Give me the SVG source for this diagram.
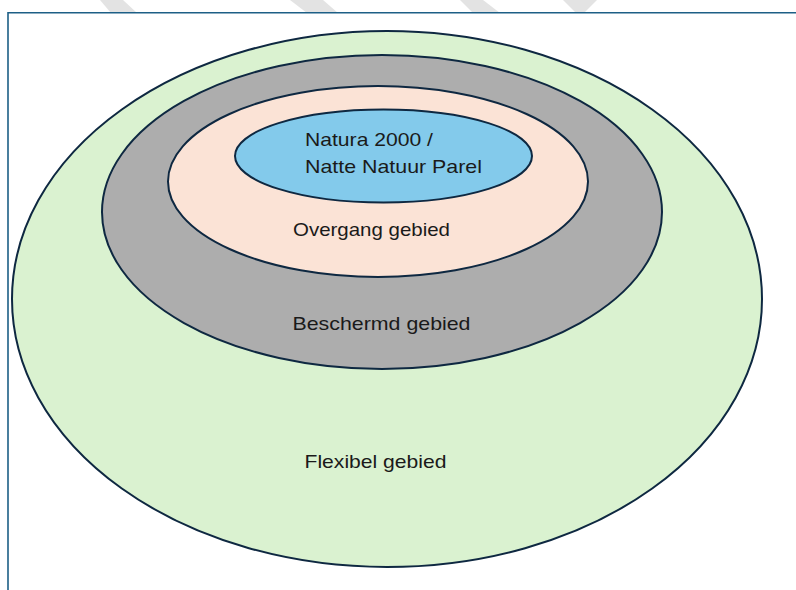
<svg xmlns="http://www.w3.org/2000/svg" width="796" height="590" viewBox="0 0 796 590">
  <style>
    .zone { stroke: #0e2841; stroke-width: 2; }
    .lbl { font-family: "Liberation Sans", Arial, sans-serif; font-size: 19px; fill: #1a1a1a; }
    .wm { fill: #e3e3e3; }
    .frame { stroke: #1d5f86; stroke-width: 1.6; fill: none; }
  </style>
  <rect x="0" y="0" width="796" height="590" fill="#ffffff"/>
  <g id="watermark">
    <polygon class="wm" points="100,0 123,0 137,13 111,13"/>
    <polygon class="wm" points="290,0 323,0 338,13 307,13"/>
    <polygon class="wm" points="460,0 483,0 500,13 473,13"/>
    <polygon class="wm" points="563,0 597,0 584,13 576,13"/>
  </g>
  <g id="frame">
    <path class="frame" d="M8,590 L8,12.7 L796,12.7"/>
  </g>
  <g id="flexibel">
    <ellipse class="zone" cx="387" cy="299" rx="375" ry="268" fill="#daf2d0"/>
    <text class="lbl" x="304.5" y="467.5" textLength="142" lengthAdjust="spacingAndGlyphs">Flexibel gebied</text>
  </g>
  <g id="beschermd">
    <ellipse class="zone" cx="382" cy="212" rx="280" ry="157" fill="#adadad"/>
    <text class="lbl" x="292.5" y="330" textLength="178" lengthAdjust="spacingAndGlyphs">Beschermd gebied</text>
  </g>
  <g id="overgang">
    <ellipse class="zone" cx="378" cy="181.5" rx="210" ry="95.5" fill="#fbe3d6"/>
    <text class="lbl" x="293" y="235.5" textLength="157" lengthAdjust="spacingAndGlyphs">Overgang gebied</text>
  </g>
  <g id="natura">
    <ellipse class="zone" cx="383.5" cy="156" rx="148.5" ry="46.5" fill="#83caeb"/>
    <text class="lbl" x="305" y="145.5" textLength="128" lengthAdjust="spacingAndGlyphs">Natura 2000 /</text>
    <text class="lbl" x="305" y="172.5" textLength="177" lengthAdjust="spacingAndGlyphs">Natte Natuur Parel</text>
  </g>
  <g id="connectors"/>
</svg>
